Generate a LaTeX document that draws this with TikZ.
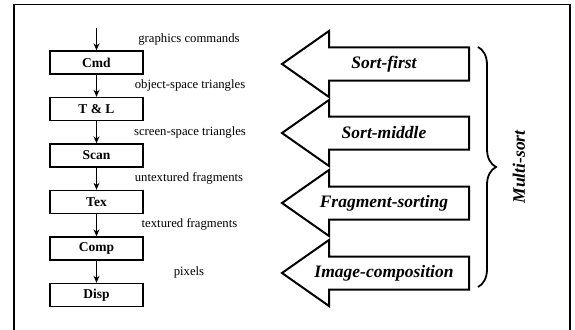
\documentclass[tikz,border=0pt]{standalone}
\usepackage{fontspec}
\setmainfont{Liberation Serif}
\usetikzlibrary{arrows.meta,decorations.pathreplacing}
\tikzset{
  stage/.style={draw, line width=1.4pt, minimum width=93pt, minimum height=23pt, inner sep=0pt,
    font=\fontsize{13.5}{15}\selectfont\bfseries},
  flowlabel/.style={inner sep=0pt, font=\fontsize{12.7}{14}\selectfont},
  flow/.style={-{Stealth[length=7pt,width=6pt]}, line width=0.9pt},
  bigarrow/.style={draw, fill=white, line width=2pt, miter limit=10},
  sortlabel/.style={inner sep=0pt, font=\fontsize{17.5}{19}\selectfont\bfseries\itshape}
}
\newcommand{\sortarrow}[3]{%
  \draw[bigarrow] (282pt,-#1pt) -- (329pt,-#1pt+33pt) -- (329pt,-#1pt+16.5pt) -- (469pt,-#1pt+16.5pt)
     -- (469pt,-#1pt-16.5pt) -- (329pt,-#1pt-16.5pt) -- (329pt,-#1pt-33pt) -- cycle;
  \node[sortlabel] (#2) at (384pt,-#1pt) {#3};}
\begin{document}
\begin{tikzpicture}[x=1pt,y=-1pt]
\useasboundingbox (0,0) rectangle (575,329);
\clip (0,0) rectangle (575,329);
\draw[line width=1.5pt] (14,4.5) rectangle (570,345);

\node[stage] (cmd) at (96.5,62.5) {Cmd};
\node[stage] (tl) at (96.5,109) {T \& L};
\node[stage] (scan) at (96.5,155.5) {Scan};
\node[stage] (tex) at (96.5,202) {Tex};
\node[stage] (comp) at (96.5,248.5) {Comp};
\node[stage] (disp) at (96.5,295) {Disp};
\coordinate (in) at (96.5,28);

\draw[flow] (in) -- (cmd);
\draw[flow] (cmd) -- (tl);
\draw[flow] (tl) -- (scan);
\draw[flow] (scan) -- (tex);
\draw[flow] (tex) -- (comp);
\draw[flow] (comp) -- (disp);

\node[flowlabel] (l1) at (189,39) {graphics commands};
\node[flowlabel] (l2) at (190,85) {object-space triangles};
\node[flowlabel] (l3) at (190,132) {screen-space triangles};
\node[flowlabel] (l4) at (189,178) {untextured fragments};
\node[flowlabel] (l5) at (189.5,224) {textured fragments};
\node[flowlabel] (l6) at (189,272) {pixels};

\sortarrow{64}{sf}{Sort-first}
\sortarrow{133}{sm}{Sort-middle}
\sortarrow{203}{fs}{Fragment-sorting}
\sortarrow{273}{ic}{Image-composition}

\coordinate (bt) at (478,47);
\coordinate (bb) at (478,287);
\draw[line width=1.8pt, decorate, decoration={brace, amplitude=18pt}] (bt) -- (bb);
\node[sortlabel, rotate=90] (ms) at (519,167) {Multi-sort};
\end{tikzpicture}
\end{document}
